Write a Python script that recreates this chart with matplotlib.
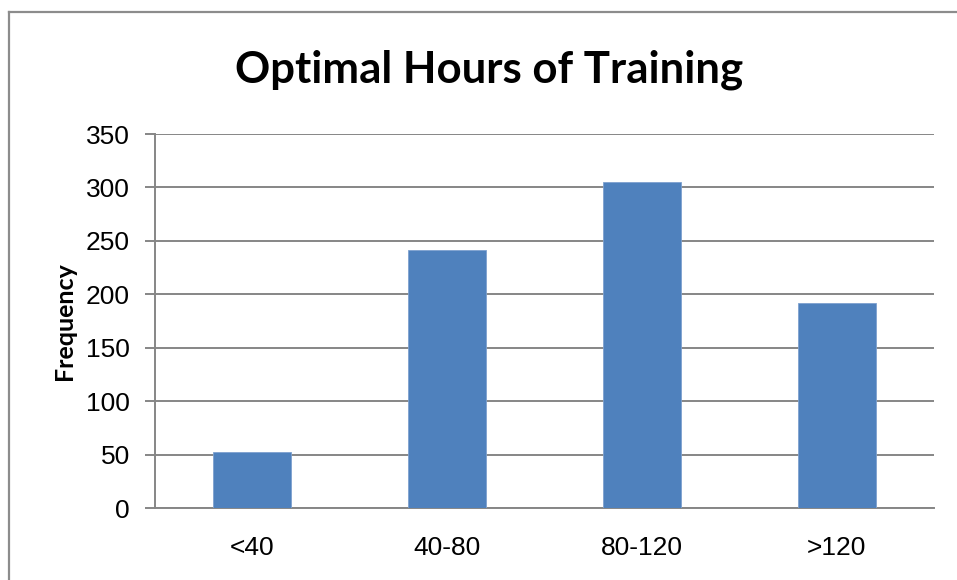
import matplotlib
matplotlib.use("Agg")
import matplotlib.pyplot as plt
from matplotlib.lines import Line2D

categories = ["<40", "40-80", "80-120", ">120"]
frequency = [52, 241, 305, 192]
y_ticks = [0, 50, 100, 150, 200, 250, 300, 350]

W, H = 957, 580
fig = plt.figure(figsize=(W / 100, H / 100), dpi=100)
fig.patch.set_facecolor("white")

# chart-area frame (left and top edges visible)
frame_col = "#8c8c8c"
fig.add_artist(Line2D([9 / W, 9 / W], [0, 1 - 12 / H], transform=fig.transFigure,
                      color=frame_col, lw=1.6))
fig.add_artist(Line2D([9 / W, 1], [1 - 12 / H, 1 - 12 / H], transform=fig.transFigure,
                      color=frame_col, lw=1.6))

ax = fig.add_axes([155 / W, 72 / H, (934 - 155) / W, (508 - 134) / H])
x = list(range(len(categories)))
ax.bar(x, frequency, width=0.4, color="#4F81BD", edgecolor="#7EA1CF",
       linewidth=0.6, zorder=3)

ax.set_xlim(-0.5, len(categories) - 0.5)
ax.set_ylim(0, 350)
ax.set_yticks(y_ticks)
ax.set_xticks(x)
ax.set_xticklabels(categories)

grid_col = "#868686"
ax.yaxis.grid(True, color=grid_col, linewidth=1.4, zorder=0)
ax.set_axisbelow(True)
for side in ("top", "right"):
    ax.spines[side].set_visible(False)
ax.spines["left"].set_color(grid_col)
ax.spines["left"].set_linewidth(1.4)
ax.spines["bottom"].set_color(grid_col)
ax.spines["bottom"].set_linewidth(1.4)

ax.tick_params(axis="y", length=7, width=1.4, color=grid_col, pad=11)
ax.tick_params(axis="x", length=0, pad=20)
for lab in ax.get_yticklabels() + ax.get_xticklabels():
    lab.set_fontfamily("Liberation Sans")
    lab.set_fontsize(19)

ax.set_ylabel("Frequency", fontfamily="Lato", fontweight="bold", fontsize=18)
ax.yaxis.set_label_coords((76 - 155) / (934 - 155), 0.5)

fig.text(489 / W, 1 - 70 / H, "Optimal Hours of Training",
         ha="center", va="center", fontfamily="Lato", fontweight="bold",
         fontsize=31.5)

fig.savefig("out.png", dpi=100, facecolor="white")
